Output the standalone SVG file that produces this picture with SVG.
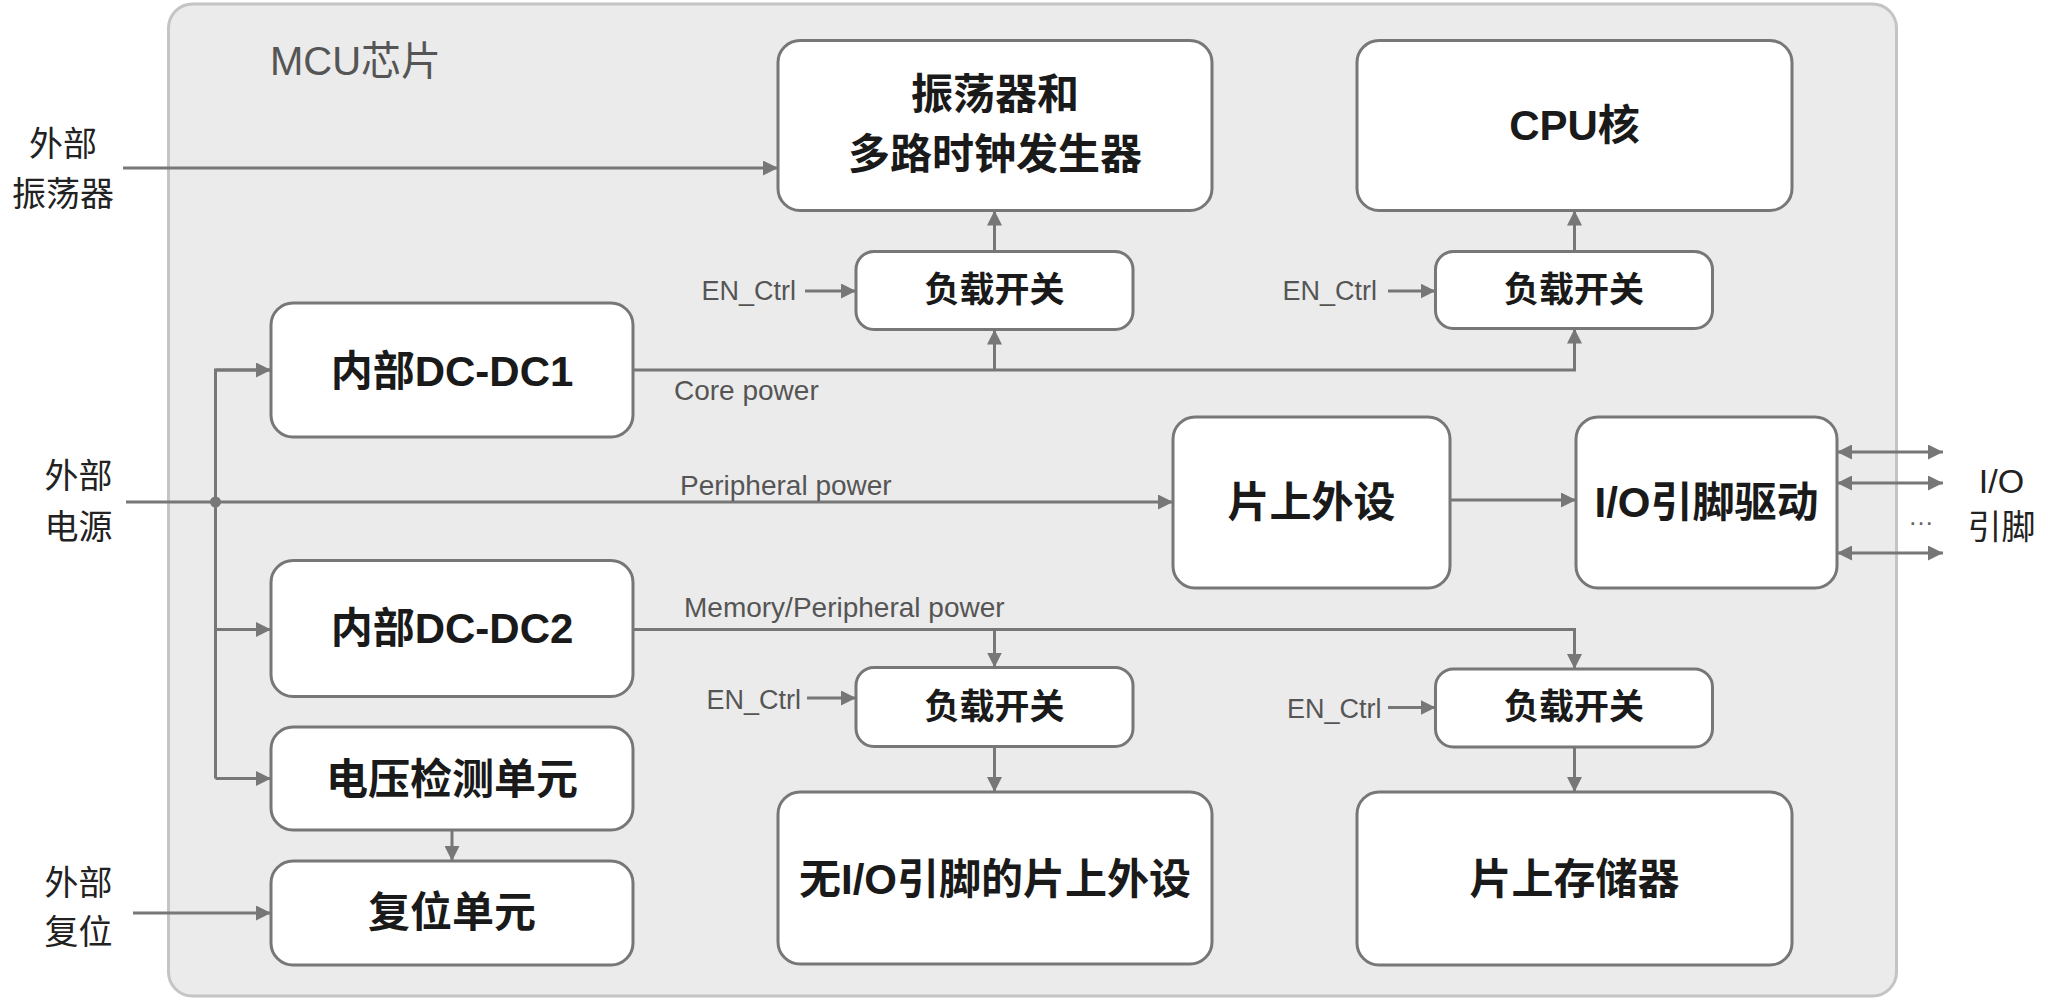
<svg xmlns="http://www.w3.org/2000/svg" width="2048" height="1000" viewBox="0 0 2048 1000">
<style>
.box{fill:#ffffff;stroke:#777777;stroke-width:3}
.bt{font-family:"Liberation Sans","Noto Sans CJK SC",sans-serif;font-weight:bold;font-size:42px;fill:#1a1a1a;text-anchor:middle}
.st{font-family:"Liberation Sans","Noto Sans CJK SC",sans-serif;font-weight:bold;font-size:35px;fill:#1a1a1a;text-anchor:middle}
.ext{font-family:"Liberation Sans","Noto Sans CJK SC",sans-serif;font-size:34px;fill:#222222;text-anchor:middle}
.lbl{font-family:"Liberation Sans","Noto Sans CJK SC",sans-serif;font-size:28px;fill:#555555}
.en{font-family:"Liberation Sans","Noto Sans CJK SC",sans-serif;font-size:27px;fill:#555555}
.c{fill:none;stroke:#777777;stroke-width:3}
.a{marker-end:url(#ah)}
.bi{marker-end:url(#ah);marker-start:url(#ah)}
</style>
<defs>
<marker id="ah" viewBox="0 0 15 15" refX="15" refY="7.5" markerWidth="15" markerHeight="15" markerUnits="userSpaceOnUse" orient="auto-start-reverse">
<path d="M0,0 L15,7.5 L0,15 z" fill="#777777"/>
</marker>
</defs>

<g id="mcu">
<rect x="168.5" y="4" width="1728" height="992" rx="24" fill="#ebebeb" stroke="#c4c4c4" stroke-width="3"/>
<text x="270" y="75" font-family="Liberation Sans,'Noto Sans CJK SC',sans-serif" font-size="40" fill="#555555">MCU芯片</text>
</g>

<g id="connectors">
<line class="c a" x1="123" y1="168" x2="778" y2="168"/>
<line class="c a" x1="126" y1="502" x2="1173" y2="502"/>
<circle cx="215.5" cy="502" r="5.5" fill="#777777"/>
<polyline class="c" points="271,370 215.5,370 215.5,778.5"/>
<line class="c a" x1="215.5" y1="370" x2="271" y2="370"/>
<line class="c a" x1="215.5" y1="629.5" x2="271" y2="629.5"/>
<line class="c a" x1="215.5" y1="778.5" x2="271" y2="778.5"/>
<polyline class="c a" points="633,370 1574.5,370 1574.5,328.5"/>
<line class="c a" x1="994.5" y1="370" x2="994.5" y2="329.5"/>
<line class="c a" x1="994.5" y1="251.5" x2="994.5" y2="210.5"/>
<line class="c a" x1="1574.5" y1="251.5" x2="1574.5" y2="210.5"/>
<line class="c a" x1="805" y1="291" x2="856" y2="291"/>
<line class="c a" x1="1388" y1="291" x2="1435.5" y2="291"/>
<line class="c a" x1="807" y1="698" x2="856" y2="698"/>
<line class="c a" x1="1388" y1="707.5" x2="1435.5" y2="707.5"/>
<line class="c a" x1="1450" y1="500" x2="1576" y2="500"/>
<line class="c bi" x1="1837" y1="452" x2="1943" y2="452"/>
<line class="c bi" x1="1837" y1="483" x2="1943" y2="483"/>
<line class="c bi" x1="1837" y1="553" x2="1943" y2="553"/>
<polyline class="c a" points="633,629.5 1574.5,629.5 1574.5,669"/>
<line class="c a" x1="994.5" y1="629.5" x2="994.5" y2="667.5"/>
<line class="c a" x1="994.5" y1="746.5" x2="994.5" y2="792"/>
<line class="c a" x1="1574.5" y1="747" x2="1574.5" y2="792"/>
<line class="c a" x1="452" y1="830" x2="452" y2="861"/>
<line class="c a" x1="133" y1="913" x2="271" y2="913"/>
<text class="lbl" x="674" y="400">Core power</text>
<text class="lbl" x="680" y="495">Peripheral power</text>
<text class="lbl" x="684" y="616.5">Memory/Peripheral power</text>
<text class="en" x="701.5" y="299.5">EN_Ctrl</text>
<text class="en" x="1282.5" y="299.5">EN_Ctrl</text>
<text class="en" x="706.5" y="709">EN_Ctrl</text>
<text class="en" x="1287" y="717.5">EN_Ctrl</text>
</g>

<g id="ext-osc">
<text class="ext" x="63" y="156">外部</text>
<text class="ext" x="63" y="206">振荡器</text>
</g>
<g id="ext-power">
<text class="ext" x="78.5" y="488">外部</text>
<text class="ext" x="78.5" y="539">电源</text>
</g>
<g id="ext-reset">
<text class="ext" x="78.5" y="895">外部</text>
<text class="ext" x="78.5" y="944">复位</text>
</g>
<g id="io-pins">
<text class="ext" x="2001.5" y="493" font-size="33">I/O</text>
<text class="ext" x="2001.5" y="539" font-size="33">引脚</text>
<text x="1921" y="525" font-family="Liberation Sans,sans-serif" font-size="26" fill="#666666" text-anchor="middle">…</text>
</g>

<g id="osc">
<rect class="box" x="778" y="40.5" width="434" height="170" rx="22"/>
<text class="bt" x="995" y="109">振荡器和</text>
<text class="bt" x="995" y="169">多路时钟发生器</text>
</g>
<g id="cpu">
<rect class="box" x="1357" y="40.5" width="435" height="170" rx="22"/>
<text class="bt" x="1574.5" y="140">CPU核</text>
</g>
<g id="ls1">
<rect class="box" x="856" y="251.5" width="277" height="78" rx="18"/>
<text class="st" x="994.5" y="302">负载开关</text>
</g>
<g id="ls2">
<rect class="box" x="1435.5" y="251.5" width="277" height="77" rx="18"/>
<text class="st" x="1574" y="302">负载开关</text>
</g>
<g id="dc1">
<rect class="box" x="271" y="303" width="362" height="134" rx="22"/>
<text class="bt" x="452" y="386">内部DC-DC1</text>
</g>
<g id="periph">
<rect class="box" x="1173" y="417" width="277" height="171" rx="22"/>
<text class="bt" x="1311.5" y="517">片上外设</text>
</g>
<g id="iodrv">
<rect class="box" x="1576" y="417" width="261" height="171" rx="22"/>
<text class="bt" x="1706.5" y="517">I/O引脚驱动</text>
</g>
<g id="dc2">
<rect class="box" x="271" y="560.5" width="362" height="136" rx="22"/>
<text class="bt" x="452" y="643">内部DC-DC2</text>
</g>
<g id="ls3">
<rect class="box" x="856" y="667.5" width="277" height="79" rx="18"/>
<text class="st" x="994.5" y="719">负载开关</text>
</g>
<g id="ls4">
<rect class="box" x="1435.5" y="669" width="277" height="78" rx="18"/>
<text class="st" x="1574" y="719">负载开关</text>
</g>
<g id="vdet">
<rect class="box" x="271" y="727" width="362" height="103" rx="22"/>
<text class="bt" x="452" y="794">电压检测单元</text>
</g>
<g id="reset">
<rect class="box" x="271" y="861" width="362" height="104" rx="22"/>
<text class="bt" x="452" y="927">复位单元</text>
</g>
<g id="noio">
<rect class="box" x="778" y="792" width="434" height="172" rx="22"/>
<text class="bt" x="995" y="894">无I/O引脚的片上外设</text>
</g>
<g id="mem">
<rect class="box" x="1357" y="792" width="435" height="173" rx="22"/>
<text class="bt" x="1574.5" y="894">片上存储器</text>
</g>
</svg>
